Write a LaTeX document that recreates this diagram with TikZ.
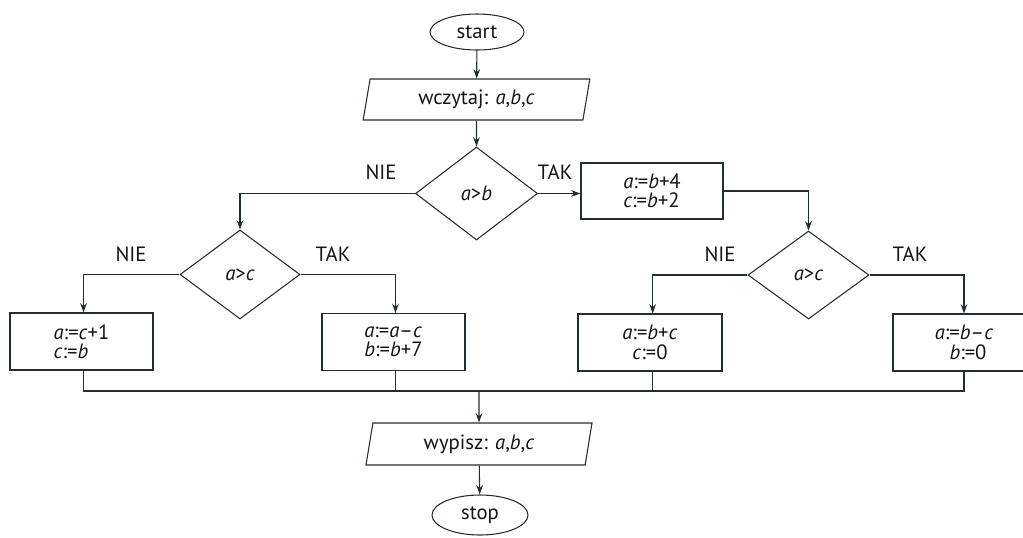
\documentclass[tikz,border=0pt]{standalone}
\usepackage{fontspec}
\setmainfont{PT Sans}
\usetikzlibrary{shapes.geometric,arrows.meta}
\definecolor{ln}{RGB}{35,45,50}
\definecolor{tx}{RGB}{20,20,20}
\tikzset{
  base/.style={draw=ln,line width=0.8pt,text=tx,font=\fontsize{15.5}{14.5}\selectfont,inner sep=0pt},
  term/.style={base,ellipse},
  io/.style={base,trapezium,trapezium left angle=70,trapezium right angle=110,trapezium stretches body},
  dec/.style={base,diamond},
  proc/.style={base,rectangle,align=left},
  procc/.style={base,rectangle,align=center},
  conn/.style={draw=ln,line width=0.8pt},
  arr/.style={conn,-{Stealth[length=7pt,width=5pt]}},
  lbl/.style={text=tx,font=\fontsize{15.5}{14.5}\selectfont,inner sep=0pt}
}
\newcommand\vv[1]{\textit{#1}}
\begin{document}
\begin{tikzpicture}[x=0.75pt,y=-0.75pt]
\useasboundingbox (0,0) rectangle (1023,537);
\node[term,minimum width=70.5pt,minimum height=27pt] (start) at (477,32) {start};
\node[io,minimum width=170pt,minimum height=30.75pt] (in) at (476.5,99.5) {wczytaj: \vv{a},\vv{b},\vv{c}};
\node[dec,minimum width=91.5pt,minimum height=69.75pt] (d1) at (476.5,193.5) {\vv{a}>\vv{b}};
\node[proc,minimum width=106.5pt,minimum height=42pt] (b1) at (652,191) {\vv{a}:=\vv{b}+4\\\vv{c}:=\vv{b}+2};
\node[dec,minimum width=90pt,minimum height=66.75pt] (d2) at (240,274.5) {\vv{a}>\vv{c}};
\node[dec,minimum width=90.75pt,minimum height=66pt] (d3) at (808.5,275) {\vv{a}>\vv{c}};
\node[proc,minimum width=107.25pt,minimum height=42.75pt] (b2) at (81.5,341.5) {\vv{a}:=\vv{c}+1\\\vv{c}:=\vv{b}};
\node[proc,minimum width=107.25pt,minimum height=42.75pt] (b3) at (393.5,342) {\vv{a}:=\vv{a}–\vv{c}\\\vv{b}:=\vv{b}+7};
\node[procc,minimum width=108pt,minimum height=42.75pt] (b4) at (650,342.5) {\vv{a}:=\vv{b}+\vv{c}\\\vv{c}:=0};
\node[procc,minimum width=106.5pt,minimum height=42.75pt] (b5) at (964,342.5) {\vv{a}:=\vv{b}–\vv{c}\\\hspace*{6pt}\vv{b}:=0};
\coordinate (m) at (479,391);
\node[io,minimum width=169.5pt,minimum height=31.5pt] (out) at (479,444) {wypisz: \vv{a},\vv{b},\vv{c}};
\node[term,minimum width=72pt,minimum height=30pt] (stop) at (480,515) {stop};
\draw[arr] (start) -- (in);
\draw[arr] (in) -- (d1);
\draw[arr] (d1.west) -| (d2.north);
\draw[arr] (d1.east) -- (d1.east -| b1.west);
\draw[arr] (b1.east) -| (d3.north);
\draw[arr] (d2.west) -| ([xshift=1.5]b2.north);
\draw[arr] (d2.east) -| ([xshift=1.5]b3.north);
\draw[arr] (d3.west) -| ([xshift=2]b4.north);
\draw[arr] (d3.east) -| (b5.north);
\draw[conn] ([xshift=1.5]b2.south) -- ([xshift=1.5]b2.south |- m) -- (b5.south |- m) -- (b5.south);
\draw[conn] ([xshift=1.5]b3.south) -- ([xshift=1.5]b3.south |- m);
\draw[conn] ([xshift=2]b4.south) -- ([xshift=2]b4.south |- m);
\draw[arr] (m) -- (out);
\draw[arr] (out) -- (stop);
\node[lbl] (l1) at (381,172) {NIE};
\node[lbl] (l2) at (555,172) {TAK};
\node[lbl] (l3) at (131,254) {NIE};
\node[lbl] (l4) at (333,254) {TAK};
\node[lbl] (l5) at (720,254) {NIE};
\node[lbl] (l6) at (910,254) {TAK};
\end{tikzpicture}
\end{document}
